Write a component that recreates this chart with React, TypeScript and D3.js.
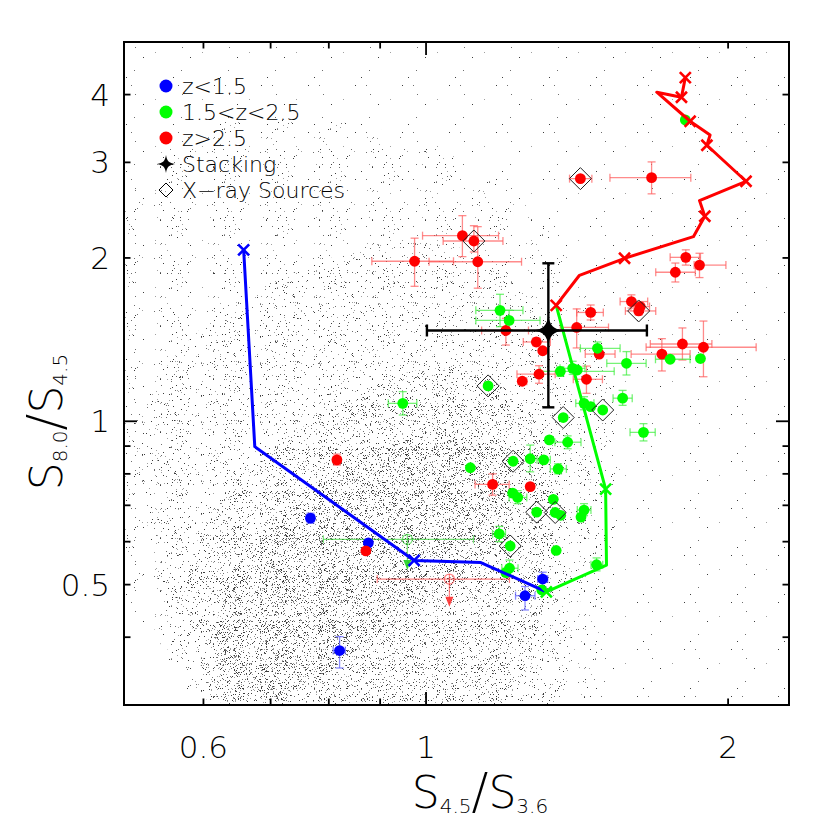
import * as d3 from "d3";

// axis ranges (log-log)
const xDomain: [number, number] = [0.5, 2.3];
const yDomain: [number, number] = [0.3, 5.0];

const xMinorTicks = [0.6, 0.7, 0.8, 0.9, 2];
const xMajorTicks = [1];
const xTickLabels = [0.6, 1, 2];
const yMinorTicks = [0.4, 0.5, 0.6, 0.7, 0.8, 0.9, 2, 3, 4];
const yMajorTicks = [1];
const yTickLabels = [0.5, 1, 2, 3, 4];

// [x, y, xlo, xhi, ylo, yhi]   (0 means no error bar)
const lowZ = [
  [0.767, 0.663, 0.76, 0.774, 0.649, 0.677],
  [0.876, 0.597, 0, 0, 0, 0],
  [0.82, 0.378, 0.808, 0.831, 0.351, 0.401],
  [1.307, 0.512, 1.292, 1.322, 0.495, 0.527],
  [1.255, 0.477, 1.228, 1.284, 0.449, 0.496],
];

const midZ = [
  [1.813, 3.592, 0, 0, 0, 0],
  [1.185, 1.601, 1.121, 1.249, 1.494, 1.714],
  [1.21, 1.534, 1.121, 1.299, 1.474, 1.602],
  [0.948, 1.079, 0.917, 0.979, 1.027, 1.134],
  [1.361, 1.236, 1.3, 1.54, 1.21, 1.26],
  [1.4, 1.252, 1.36, 1.44, 1.22, 1.29],
  [1.415, 1.243, 0, 0, 0, 0],
  [1.482, 1.363, 1.425, 1.561, 1.33, 1.4],
  [1.751, 1.301, 1.693, 1.833, 0, 0],
  [1.877, 1.305, 0, 0, 0, 0],
  [1.584, 1.279, 1.514, 1.657, 1.217, 1.344],
  [1.153, 1.162, 0, 0, 0, 0],
  [1.437, 1.079, 1.41, 1.47, 1.05, 1.11],
  [1.459, 1.064, 0, 0, 0, 0],
  [1.5, 1.049, 0, 0, 0, 0],
  [1.57, 1.103, 1.536, 1.605, 1.07, 1.14],
  [1.37, 1.016, 0, 0, 0, 0],
  [1.647, 0.954, 1.597, 1.692, 0.92, 0.99],
  [1.327, 0.924, 0, 0, 0, 0],
  [1.384, 0.915, 1.344, 1.427, 0.89, 0.94],
  [1.107, 0.821, 0, 0, 0, 0],
  [1.221, 0.844, 0, 0, 0, 0],
  [1.27, 0.853, 0, 0, 0.807, 0.904],
  [1.31, 0.849, 1.29, 1.33, 0, 0],
  [1.354, 0.817, 1.33, 1.38, 0.8, 0.835],
  [1.22, 0.737, 0, 0, 0, 0],
  [1.234, 0.724, 1.21, 1.26, 0.705, 0.745],
  [1.339, 0.718, 0, 0, 0, 0],
  [1.289, 0.68, 0, 0, 0, 0],
  [1.345, 0.679, 0, 0, 0, 0],
  [1.362, 0.671, 0, 0, 0, 0],
  [1.437, 0.686, 1.415, 1.46, 0.67, 0.705],
  [1.427, 0.666, 0, 0, 0, 0],
  [1.183, 0.62, 1.165, 1.2, 0.6, 0.64],
  [1.213, 0.589, 0, 0, 0, 0],
  [1.348, 0.578, 0, 0, 0, 0],
  [1.211, 0.536, 1.19, 1.235, 0.52, 0.555],
  [1.201, 0.526, 0, 0, 0, 0],
  [1.479, 0.544, 1.46, 1.5, 0.53, 0.56],
  [1.304, 0.489, 0, 0, 0, 0],
];

const highZ = [
  [1.087, 2.198, 0.992, 1.181, 2.011, 2.393],
  [1.116, 2.149, 1.04, 1.193, 2.051, 2.293],
  [0.974, 1.972, 0.883, 1.065, 1.773, 2.175],
  [1.126, 1.968, 1.007, 1.245, 1.759, 2.284],
  [1.201, 1.47, 1.136, 1.265, 1.382, 1.548],
  [1.288, 1.4, 1.25, 1.33, 1.377, 1.424],
  [1.307, 1.349, 0, 0, 0, 0],
  [1.296, 1.221, 1.232, 1.345, 1.175, 1.266],
  [1.247, 1.185, 1.235, 1.26, 0, 0],
  [1.413, 1.489, 1.361, 1.52, 1.365, 1.611],
  [1.459, 1.587, 1.413, 1.502, 1.537, 1.638],
  [1.602, 1.662, 1.561, 1.663, 1.617, 1.71],
  [1.629, 1.597, 1.58, 1.694, 1.57, 1.625],
  [1.635, 1.627, 1.6, 1.67, 0, 0],
  [1.488, 1.33, 1.441, 1.543, 0, 0],
  [1.445, 1.195, 1.402, 1.499, 1.126, 1.264],
  [1.718, 1.33, 1.601, 1.833, 1.238, 1.42],
  [1.801, 1.388, 1.673, 1.927, 1.297, 1.486],
  [1.89, 1.369, 1.657, 2.133, 1.208, 1.53],
  [1.815, 2.005, 1.751, 1.877, 1.94, 2.07],
  [1.873, 1.94, 1.85, 1.99, 1.84, 2.04],
  [1.772, 1.882, 1.694, 1.855, 1.806, 1.957],
  [1.678, 2.812, 1.525, 1.836, 2.625, 3.006],
  [1.425, 2.8, 1.39, 1.463, 2.77, 2.83],
  [0.815, 0.849, 0.808, 0.822, 0.83, 0.87],
  [0.871, 0.577, 0, 0, 0, 0],
  [1.165, 0.765, 1.119, 1.21, 0.731, 0.8],
  [1.27, 0.758, 0, 0, 0, 0],
];

const xraySources = [
  [1.116, 2.149],
  [1.425, 2.8],
  [1.629, 1.597],
  [1.153, 1.162],
  [1.37, 1.016],
  [1.5, 1.049],
  [1.221, 0.844],
  [1.289, 0.68],
  [1.345, 0.679],
  [1.213, 0.589],
];

// [x, y, xlo, xhi, ylo, yhi]
const stacking = [1.324, 1.47, 1.002, 1.66, 1.061, 1.955];

// [x, y, xlo, xhi, arrow tip y]
const upperLimitRed = [1.055, 0.512, 0.894, 1.211, 0.455];
const upperLimitGreen = [0.958, 0.606, 0.79, 1.115, 0.532];

// model tracks
const trackHigh = [
  [1.348, 1.635], [1.422, 1.858], [1.577, 1.997], [1.847, 2.189], [1.896, 2.387],
  [1.873, 2.551], [2.084, 2.769], [1.905, 3.226], [1.919, 3.37], [1.833, 3.572],
  [1.698, 4.04], [1.797, 3.955], [1.813, 4.298],
];
const crossHigh = [
  [1.348, 1.635], [1.577, 1.997], [1.896, 2.387], [2.084, 2.769], [1.905, 3.226],
  [1.833, 3.572], [1.797, 3.955], [1.813, 4.298],
];
const trackMid = [[1.348, 1.635], [1.51, 0.75], [1.513, 0.543], [1.318, 0.485]];
const crossMid = [[1.51, 0.75], [1.318, 0.485]];
const trackLow = [[0.658, 2.069], [0.675, 0.898], [0.973, 0.554], [1.134, 0.549], [1.318, 0.485]];
const crossLow = [[0.658, 2.069], [0.973, 0.554]];

// field-galaxy cloud, nested density regions
const cloudL1 = [[0.5, 5], [2.3, 5], [2.3, 0.3], [0.616, 0.3], [0.543, 0.395], [0.5, 0.465]];
const cloudL2 = [[0.5, 2.56], [0.595, 3.44], [0.784, 3.59], [1.033, 3.16], [1.299, 2.35], [1.491, 1.47], [1.561, 0.78], [1.491, 0.43], [1.424, 0.3], [0.602, 0.3], [0.531, 0.43], [0.5, 0.555]];
const cloudL3 = [[0.519, 1.006], [0.595, 1.474], [0.749, 1.9], [0.986, 2.16], [1.185, 1.9], [1.36, 1.3], [1.457, 0.813], [1.424, 0.465], [1.329, 0.3], [0.616, 0.3], [0.562, 0.395], [0.531, 0.604]];
const cloudL4 = [[0.582, 0.555], [0.668, 0.813], [0.802, 1.049], [0.986, 1.243], [1.158, 1.191], [1.299, 0.924], [1.345, 0.631], [1.299, 0.43], [1.185, 0.3], [0.63, 0.3], [0.589, 0.395]];
const cloudL5 = [[0.616, 0.379], [0.653, 0.555], [0.749, 0.716], [0.9, 0.885], [1.081, 0.964], [1.213, 0.813], [1.185, 0.604], [1.033, 0.489], [0.88, 0.395], [0.749, 0.322], [0.653, 0.308]];

const legendItems = ["z<1.5", "1.5<z<2.5", "z>2.5", "Stacking", "X\u2212ray Sources"];

const FONT = "'DejaVu Sans', sans-serif";
const BLUE = "#0000ff";
const GREEN = "#00ff00";
const RED = "#ff0000";

const left = 124;
const right = 789;
const top = 42;
const bottom = 705;

// deterministic texture generator for the stipple tiles
function texture(seed: number) {
  let a = seed;
  return () => {
    a = (a + 0x6d2b79f5) | 0;
    let t = Math.imul(a ^ (a >>> 15), 1 | a);
    t = (t + Math.imul(t ^ (t >>> 7), 61 | t)) ^ t;
    return ((t ^ (t >>> 14)) >>> 0) / 4294967296;
  };
}

const cloudStyles = [
  { poly: cloudL1, tile: 47, n: 7, smooth: false },
  { poly: cloudL2, tile: 53, n: 40, smooth: true },
  { poly: cloudL3, tile: 59, n: 90, smooth: true },
  { poly: cloudL4, tile: 43, n: 110, smooth: true },
  { poly: cloudL5, tile: 61, n: 260, smooth: true },
];

function star(R: number, r: number) {
  return `M0,${-R} C${r * 0.3},${-r} ${r},${-r * 0.3} ${R},0 C${r},${r * 0.3} ${r * 0.3},${r} 0,${R} C${-r * 0.3},${r} ${-r},${r * 0.3} ${-R},0 C${-r},${-r * 0.3} ${-r * 0.3},${-r} 0,${-R} Z`;
}

export default function App() {
  const x = d3.scaleLog().domain(xDomain).range([left, right]);
  const y = d3.scaleLog().domain(yDomain).range([bottom, top]);

  const line = d3
    .line<number[]>()
    .x((d) => x(d[0]))
    .y((d) => y(d[1]));

  const cap = 4;

  const errBars = (p: number[], color: string, key: string) => {
    const [px, py, xl, xh, yl, yh] = p;
    const cx = x(px);
    const cy = y(py);
    return (
      <g key={key} stroke={color} strokeWidth={1.3} strokeOpacity={0.7}>
        {xl > 0 && (
          <>
            <line x1={x(xl)} x2={x(xh)} y1={cy} y2={cy} />
            <line x1={x(xl)} x2={x(xl)} y1={cy - cap} y2={cy + cap} />
            <line x1={x(xh)} x2={x(xh)} y1={cy - cap} y2={cy + cap} />
          </>
        )}
        {yl > 0 && (
          <>
            <line x1={cx} x2={cx} y1={y(yl)} y2={y(yh)} />
            <line x1={cx - cap} x2={cx + cap} y1={y(yl)} y2={y(yl)} />
            <line x1={cx - cap} x2={cx + cap} y1={y(yh)} y2={y(yh)} />
          </>
        )}
      </g>
    );
  };

  const groups = [
    { data: lowZ, color: BLUE, bar: "#5a5aff", name: "low" },
    { data: highZ, color: RED, bar: "#ff5a5a", name: "high" },
    { data: midZ, color: GREEN, bar: "#3cee3c", name: "mid" },
  ];

  const upperLimit = (u: number[], color: string, key: string) => {
    const [ux, uy, xl, xh, tip] = u;
    const cx = x(ux);
    const cy = y(uy);
    const ty = y(tip);
    return (
      <g key={key} stroke={color} strokeOpacity={0.6} strokeWidth={1.2} fill="none">
        <line x1={x(xl)} x2={x(xh)} y1={cy} y2={cy} />
        <line x1={x(xl)} x2={x(xl)} y1={cy - cap} y2={cy + cap} />
        <line x1={x(xh)} x2={x(xh)} y1={cy - cap} y2={cy + cap} />
        <circle cx={cx} cy={cy} r={5} />
        <line x1={cx} x2={cx} y1={cy - 5} y2={ty - 8} />
        <path d={`M${cx - 4},${ty - 10} L${cx + 4},${ty - 10} L${cx},${ty} Z`} fill={color} fillOpacity={0.9} stroke="none" />
      </g>
    );
  };

  const cross = (p: number[], color: string, key: string) => (
    <path
      key={key}
      transform={`translate(${x(p[0])},${y(p[1])})`}
      d="M-5.5,-5.5L5.5,5.5M-5.5,5.5L5.5,-5.5"
      stroke={color}
      strokeWidth={2.6}
    />
  );

  const sx = stacking;
  const scx = x(sx[0]);
  const scy = y(sx[1]);

  const legendY = [86, 112, 138, 164, 190];

  return (
    <svg
      width={830}
      height={830}
      style={{ position: "absolute", left: 0, top: 0, background: "#fff" }}
    >
      <defs>
        <clipPath id="plot-area">
          <rect x={left} y={top} width={right - left} height={bottom - top} />
        </clipPath>
        {cloudStyles.map((c, i) => {
          const rnd = texture(1000 + i * 7919);
          const dots = d3.range(c.n).map(() => [
            Math.floor(rnd() * c.tile),
            Math.floor(rnd() * c.tile),
            rnd(),
          ]);
          return (
            <pattern key={i} id={`cloud-${i}`} width={c.tile} height={c.tile} patternUnits="userSpaceOnUse">
              {dots.map((d, j) => (
                <rect
                  key={j}
                  x={d[0]}
                  y={d[1]}
                  width={1}
                  height={1}
                  fill={d[2] < 0.35 ? "#3c3c3c" : d[2] < 0.7 ? "#6e6e6e" : "#a0a0a0"}
                />
              ))}
            </pattern>
          );
        })}
      </defs>

      <g clipPath="url(#plot-area)">
        {/* background galaxies */}
        {cloudStyles.map((c, i) => {
          const shape = d3
            .line<number[]>()
            .x((d) => x(d[0]))
            .y((d) => y(d[1]))
            .curve(c.smooth ? d3.curveCatmullRomClosed : d3.curveLinearClosed);
          return <path key={i} d={shape(c.poly) ?? ""} fill={`url(#cloud-${i})`} />;
        })}

        {/* error bars */}
        {groups.map((g) => g.data.map((p, i) => errBars(p, g.bar, `${g.name}-e-${i}`)))}
        {upperLimit(upperLimitGreen, "#20d020", "ul-g")}
        {upperLimit(upperLimitRed, "#ff3030", "ul-r")}

        {/* points */}
        {groups.map((g) =>
          g.data.map((p, i) => (
            <circle key={`${g.name}-p-${i}`} cx={x(p[0])} cy={y(p[1])} r={5.4} fill={g.color} />
          ))
        )}

        {/* X-ray sources */}
        {xraySources.map((p, i) => (
          <path
            key={`xr-${i}`}
            transform={`translate(${x(p[0])},${y(p[1])})`}
            d="M0,-11L11,0L0,11L-11,0Z"
            fill="none"
            stroke="#222"
            strokeWidth={1}
          />
        ))}

        {/* model tracks */}
        <path d={line(trackLow) ?? ""} fill="none" stroke={BLUE} strokeWidth={3} strokeLinejoin="round" />
        <path d={line(trackMid) ?? ""} fill="none" stroke={GREEN} strokeWidth={3} strokeLinejoin="round" />
        <path d={line(trackHigh) ?? ""} fill="none" stroke={RED} strokeWidth={3} strokeLinejoin="round" />
        {crossLow.map((p, i) => cross(p, BLUE, `cl-${i}`))}
        {crossMid.map((p, i) => cross(p, GREEN, `cm-${i}`))}
        {crossHigh.map((p, i) => cross(p, RED, `ch-${i}`))}

        {/* stacking */}
        <g stroke="#000" strokeWidth={2.4}>
          <line x1={x(sx[2])} x2={x(sx[3])} y1={scy} y2={scy} />
          <line x1={x(sx[2])} x2={x(sx[2])} y1={scy - 6} y2={scy + 6} />
          <line x1={x(sx[3])} x2={x(sx[3])} y1={scy - 6} y2={scy + 6} />
          <line x1={scx} x2={scx} y1={y(sx[4])} y2={y(sx[5])} />
          <line x1={scx - 6} x2={scx + 6} y1={y(sx[4])} y2={y(sx[4])} />
          <line x1={scx - 6} x2={scx + 6} y1={y(sx[5])} y2={y(sx[5])} />
        </g>
        <path transform={`translate(${scx},${scy})`} d={star(15, 5)} fill="#000" />
      </g>

      {/* frame */}
      <rect x={left} y={top} width={right - left} height={bottom - top} fill="none" stroke="#000" strokeWidth={2} />

      {/* ticks */}
      <g stroke="#000" strokeWidth={1.8}>
        {[...xMinorTicks.map((t) => [t, 6.5]), ...xMajorTicks.map((t) => [t, 13])].map(([t, len]) => (
          <g key={`xt-${t}`}>
            <line x1={x(t)} x2={x(t)} y1={bottom} y2={bottom - len} />
            <line x1={x(t)} x2={x(t)} y1={top} y2={top + len} />
          </g>
        ))}
        {[...yMinorTicks.map((t) => [t, 6.5]), ...yMajorTicks.map((t) => [t, 13])].map(([t, len]) => (
          <g key={`yt-${t}`}>
            <line x1={left} x2={left + len} y1={y(t)} y2={y(t)} />
            <line x1={right} x2={right - len} y1={y(t)} y2={y(t)} />
          </g>
        ))}
      </g>

      {/* tick labels */}
      <g fontFamily={FONT} fontSize={31} fontWeight={200} fill="#000">
        {xTickLabels.map((t) => (
          <text key={`xl-${t}`} x={x(t)} y={758} textAnchor="middle">
            {String(t)}
          </text>
        ))}
        {yTickLabels.map((t) => (
          <text key={`yl-${t}`} x={110} y={y(t) + 11} textAnchor="end">
            {String(t)}
          </text>
        ))}
      </g>

      {/* axis titles */}
      <text x={480} y={808} textAnchor="middle" fontFamily={FONT} fontWeight={200} fill="#000">
        <tspan fontSize={44}>S</tspan>
        <tspan fontSize={20} dy={5}>4.5</tspan>
        <tspan fontSize={50} dy={-5}>/</tspan>
        <tspan fontSize={44}>S</tspan>
        <tspan fontSize={20} dy={5}>3.6</tspan>
      </text>
      <text
        transform="translate(62,422) rotate(-90)"
        textAnchor="middle"
        fontFamily={FONT}
        fontWeight={200}
        fill="#000"
      >
        <tspan fontSize={44}>S</tspan>
        <tspan fontSize={20} dy={5}>8.0</tspan>
        <tspan fontSize={50} dy={-5}>/</tspan>
        <tspan fontSize={44}>S</tspan>
        <tspan fontSize={20} dy={5}>4.5</tspan>
      </text>

      {/* legend */}
      <g fontFamily={FONT} fontSize={22} fontWeight={200} fill="#000">
        <circle cx={166} cy={legendY[0]} r={6.5} fill={BLUE} />
        <circle cx={166} cy={legendY[1]} r={6.5} fill={GREEN} />
        <circle cx={166} cy={legendY[2]} r={6.5} fill={RED} />
        <path transform={`translate(166,${legendY[3]})`} d={star(9, 3)} fill="#000" />
        <path transform={`translate(166,${legendY[4]})`} d="M0,-7L7,0L0,7L-7,0Z" fill="none" stroke="#000" strokeWidth={1} />
        {legendItems.map((s, i) => (
          <text key={s} x={182} y={legendY[i] + 8}>
            {s}
          </text>
        ))}
      </g>
    </svg>
  );
}
